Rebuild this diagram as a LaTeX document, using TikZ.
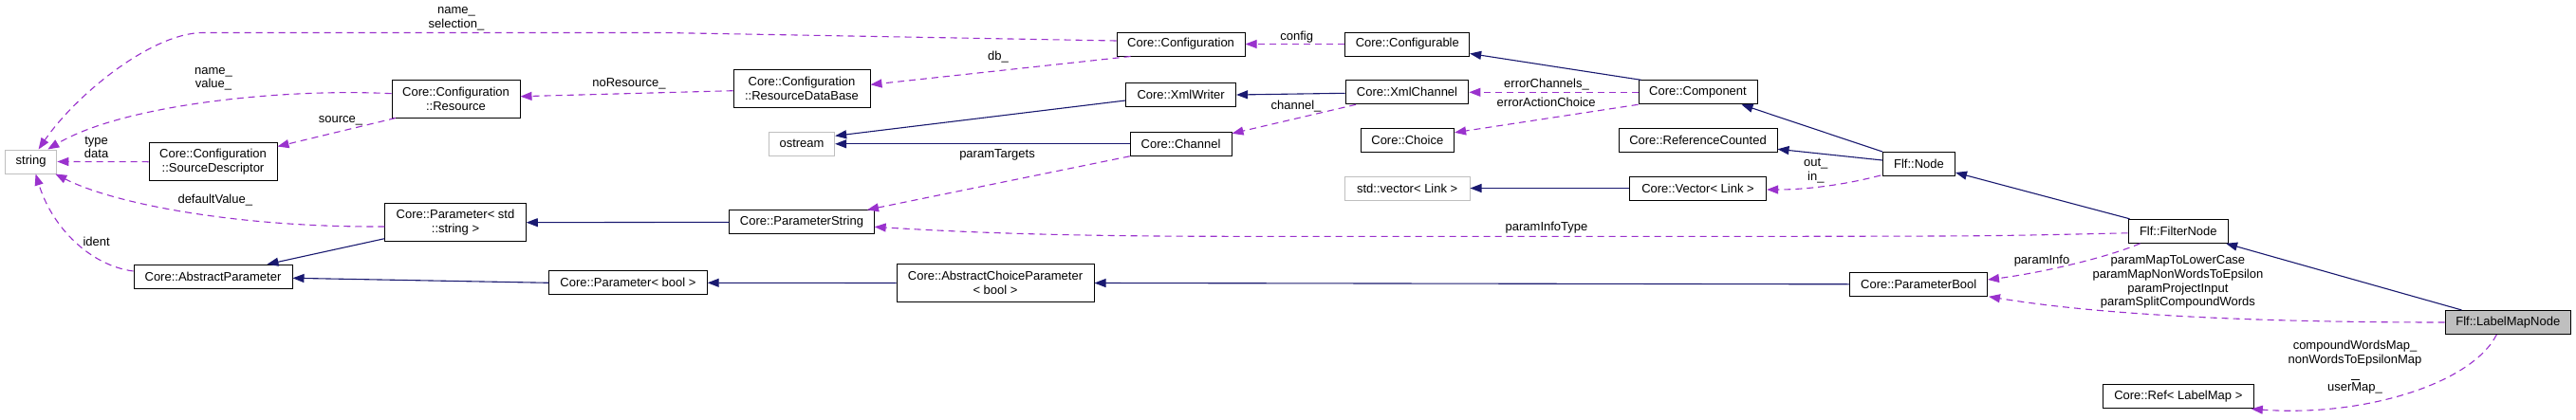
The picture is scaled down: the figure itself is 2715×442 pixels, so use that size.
\documentclass[tikz,border=0pt]{standalone}
\usepackage{fontspec}
\setmainfont{Liberation Sans}
\usetikzlibrary{arrows.meta,calc}
\definecolor{usecol}{HTML}{9A32CD}
\definecolor{inhcol}{HTML}{191970}
\definecolor{greyline}{HTML}{BFBFBF}
\definecolor{greyfill}{HTML}{BFBFBF}
\begin{document}
\begin{tikzpicture}[x=1pt,y=-1pt,
  cls/.style={draw=black,line width=1pt,fill=white,minimum height=25pt,inner sep=0pt,align=center,font=\fontsize{13}{15}\selectfont},
  cls2/.style={cls,minimum height=40pt},
  ext/.style={cls,draw=greyline},
  inh/.style={draw=inhcol,line width=1.1pt,-{Triangle[length=12pt,width=9pt]}},
  use/.style={draw=usecol,line width=1.1pt,dash pattern=on 7pt off 5pt,-{Triangle[length=12pt,width=9pt]}},
  lbl/.style={font=\fontsize{13}{14.7}\selectfont,align=center,inner sep=0pt}
]
\fill[white] (0,0) rectangle (2715,442);
\useasboundingbox (0,0) rectangle (2715,442);

% nodes
\node[ext,minimum width=54.4pt] (str) at (32.6,170.5) {string};
\node[cls2,minimum width=135pt] (res) at (480.5,104) {Core::Configuration\\::Resource};
\node[cls2,minimum width=135pt] (sd) at (224.5,170.7) {Core::Configuration\\::SourceDescriptor};
\node[cls2,minimum width=148.5pt] (pstr) at (480,234.7) {Core::Parameter< std\\::string >};
\node[cls,minimum width=167pt] (ap) at (224.5,291.8) {Core::AbstractParameter};
\node[cls,minimum width=166.4pt] (pb) at (662,298.3) {Core::Parameter< bool >};
\node[cls,minimum width=135pt] (conf) at (1244.6,46.5) {Core::Configuration};
\node[cls2,minimum width=144pt] (rdb) at (845,93) {Core::Configuration\\::ResourceDataBase};
\node[cls,minimum width=116pt] (xmlw) at (1244.6,100) {Core::XmlWriter};
\node[ext,minimum width=69.3pt] (ostream) at (845,151.8) {ostream};
\node[cls,minimum width=106.8pt] (channel) at (1244.6,151.8) {Core::Channel};
\node[cls,minimum width=152.3pt] (ps) at (845,234.3) {Core::ParameterString};
\node[cls2,minimum width=208pt] (acp) at (1049,298.5) {Core::AbstractChoiceParameter\\< bool >};
\node[cls,minimum width=130.7pt] (cfgable) at (1483.3,46.5) {Core::Configurable};
\node[cls,minimum width=129.8pt] (xmlch) at (1483,97.3) {Core::XmlChannel};
\node[cls,minimum width=125pt] (comp) at (1789.5,97.3) {Core::Component};
\node[cls,minimum width=98.6pt] (choice) at (1483.3,147.8) {Core::Choice};
\node[cls,minimum width=167pt] (rc) at (1789.5,147.8) {Core::ReferenceCounted};
\node[ext,minimum width=131.6pt] (stdvec) at (1483.2,198.5) {std::vector< Link >};
\node[cls,minimum width=144.2pt] (vec) at (1789.5,198.5) {Core::Vector< Link >};
\node[cls,minimum width=76pt] (fnode) at (2022.5,173) {Flf::Node};
\node[cls,minimum width=144.5pt] (pbool) at (2022.2,299.8) {Core::ParameterBool};
\node[cls,minimum width=105.5pt] (filt) at (2295.8,243.8) {Flf::FilterNode};
\node[cls,minimum width=132.6pt,fill=greyfill] (lmn) at (2643.3,340) {Flf::LabelMapNode};
\node[cls,minimum width=159pt] (ref) at (2295.8,418.3) {Core::Ref< LabelMap >};

% inheritance
\draw[inh] ($(comp.north west)+(3,0)$) -- ($(cfgable.south east)+(0,-3)$);
\draw[inh] ($(xmlch.west)+(0,1)$) -- (xmlw.east);
\draw[inh] ($(xmlw.west)+(0,6)$) -- ($(ostream.east)+(0,-8.5)$);
\draw[inh] (channel.west) -- (ostream.east);
\draw[inh] (fnode.north west) -- ($(comp.south)+(46,0)$);
\draw[inh] ($(fnode.west)+(0,-4)$) -- ($(rc.east)+(0,9.5)$);
\draw[inh] (vec.west) -- (stdvec.east);
\draw[inh] ($(filt.north west)+(2,0)$) -- ($(fnode.south east)+(0,-4)$);
\draw[inh] ($(lmn.north west)+(18,0)$) -- ($(filt.south east)+(-3,0)$);
\draw[inh] (ps.west) -- (pstr.east);
\draw[inh] ($(pstr.west)+(0,17)$) -- ($(ap.north)+(57,0)$);
\draw[inh] (pb.west) -- ($(ap.east)+(0,1.5)$);
\draw[inh] (acp.west) -- (pb.east);
\draw[inh] (pbool.west) -- (acp.east);

% usage
\draw[use] ($(conf.west)+(0,-3.5)$) -- (700,34.5) -- (214,34.5) .. controls (160,34.5) and (80,100) .. ($(str.north)+(8,0)$);
\draw[use] (cfgable.west) -- (conf.east);
\draw[use] ($(conf.south west)+(15,0)$) -- ($(rdb.east)+(0,-3.7)$);
\draw[use] ($(rdb.west)+(0,2.7)$) -- ($(res.east)+(0,-2.3)$);
\draw[use] ($(res.west)+(0,-5.3)$) .. controls (300,93) and (130,110) .. ($(str.north east)+(-10,0)$);
\draw[use] ($(res.south west)+(4.4,0)$) -- ($(sd.north east)+(0,4.3)$);
\draw[use] (sd.west) -- (str.east);
\draw[use] ($(pstr.west)+(0,4.3)$) .. controls (250,240) and (120,215) .. ($(str.south east)+(-2,0)$);
\draw[use] ($(ap.west)+(0,-5.8)$) .. controls (95,280) and (55,240) .. ($(str.south)+(5,0)$);
\draw[use] (comp.west) -- (xmlch.east);
\draw[use] (comp.south west) -- ($(choice.north east)+(0,5)$);
\draw[use] ($(xmlch.south west)+(11.5,0)$) -- ($(channel.north east)+(0,2)$);
\draw[use] (channel.south west) -- ($(ps.north east)+(-7.6,0)$);
\draw[use] ($(fnode.south west)+(-2,-1)$) .. controls (1940,196) and (1900,200) .. ($(vec.east)+(0,1.5)$);
\draw[use] ($(filt.west)+(0,2)$) .. controls (2100,249) .. (1900,249.3) -- (1300,249.3) .. controls (1100,249.3) and (1000,244) .. ($(ps.east)+(0,5)$);
\draw[use] ($(filt.south west)+(13,0)$) .. controls (2220,272) and (2150,288) .. ($(pbool.east)+(0,-4.8)$);
\draw[use] (lmn.west) .. controls (2350,340) and (2200,330) .. ($(pbool.south east)+(1,0)$);
\draw[use] ($(lmn.south)+(-12,0)$) .. controls (2605,405) and (2490,440) .. ($(ref.south east)+(-3,0)$);

% labels
\node[lbl] (la) at (481,19.5) {name\_\\selection\_};
\node[lbl] (lb) at (225,83.3) {name\_\\value\_};
\node[lbl] (lc) at (663,88.7) {noResource\_};
\node[lbl] (ld) at (359,127) {source\_};
\node[lbl] (le) at (101.6,155.3) {type\\data};
\node[lbl] (lf) at (226.8,210.7) {defaultValue\_};
\node[lbl] (lg) at (101.6,255.3) {ident};
\node[lbl] (lh) at (1052,60) {db\_};
\node[lbl] (li) at (1366.7,39) {config};
\node[lbl] (lj) at (1630,88.7) {errorChannels\_};
\node[lbl] (lk) at (1629.7,108.3) {errorActionChoice};
\node[lbl] (ll) at (1366,111.7) {channel\_};
\node[lbl] (lm) at (1051,163.7) {paramTargets};
\node[lbl] (ln) at (1913.8,180) {out\_\\in\_};
\node[lbl] (lo) at (1630,240) {paramInfoType};
\node[lbl] (lp) at (2152,275) {paramInfo};
\node[lbl] (lq) at (2295.4,297.6) {paramMapToLowerCase\\paramMapNonWordsToEpsilon\\paramProjectInput\\paramSplitCompoundWords};
\node[lbl] (lr) at (2482,387) {compoundWordsMap\_\\nonWordsToEpsilonMap\\\mbox{}\\user\rlap{\rule[11.3pt]{9pt}{1pt}}Map\_};
\end{tikzpicture}
\end{document}
